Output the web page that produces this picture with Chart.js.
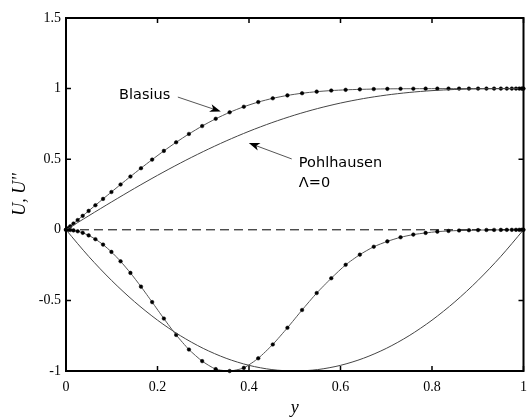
<!DOCTYPE html>
<html>
<head>
<meta charset="utf-8">
<script src="https://cdn.jsdelivr.net/npm/chart.js@4.4.1/dist/chart.umd.min.js"></script>
<style>
  html, body { margin: 0; padding: 0; background: #fff; }
  #wrap { width: 528px; height: 419px; }
</style>
</head>
<body>
<div id="wrap"><canvas id="chart" width="528" height="419"></canvas></div>
<script>
// y positions of the Blasius samples (clustered at both ends)
const yPts = [
    0, 0.0010, 0.0041, 0.0092, 0.0164, 0.0255, 0.0365, 0.0495, 0.0643, 0.0810,
    0.0993, 0.1193, 0.1408, 0.1639, 0.1883, 0.2139, 0.2408, 0.2687, 0.2976, 0.3273,
    0.3577, 0.3887, 0.4202, 0.4520, 0.4840, 0.5160, 0.5480, 0.5798, 0.6113, 0.6423,
    0.6727, 0.7024, 0.7313, 0.7592, 0.7861, 0.8117, 0.8361, 0.8592, 0.8807, 0.9007,
    0.9190, 0.9357, 0.9505, 0.9635, 0.9745, 0.9836, 0.9908, 0.9959, 0.9990, 1
];
const blasiusU = [
    0, 0.0028, 0.0111, 0.0250, 0.0443, 0.0689, 0.0989, 0.1339, 0.1740, 0.2187,
    0.2677, 0.3208, 0.3771, 0.4362, 0.4971, 0.5587, 0.6197, 0.6788, 0.7348, 0.7862,
    0.8320, 0.8716, 0.9046, 0.9312, 0.9519, 0.9672, 0.9784, 0.9861, 0.9913, 0.9946,
    0.9967, 0.9981, 0.9989, 0.9993, 0.9996, 0.9998, 0.9999, 0.9999, 1, 1,
    1, 1, 1, 1, 1, 1, 1, 1, 1, 1
];
const blasiusUpp = [
    0, 0, -0.0003, -0.0014, -0.0043, -0.0105, -0.0215, -0.0395, -0.0665, -0.1048,
    -0.1565, -0.2232, -0.3053, -0.4026, -0.5121, -0.6286, -0.7447, -0.848, -0.930, -0.987,
    -1.0, -0.978, -0.910, -0.812, -0.694, -0.568, -0.448, -0.343, -0.248, -0.176,
    -0.120, -0.082, -0.053, -0.034, -0.022, -0.013, -0.008, -0.005, -0.003, -0.002,
    -0.0013, -0.0009, -0.0006, -0.0004, -0.0003, -0.0002, -0.0002, -0.0001, -0.0001, 0
];

// Pohlhausen profile, Lambda = 0
const pohlY = [0, 0.05, 0.1, 0.15, 0.2, 0.25, 0.3, 0.35, 0.4, 0.45, 0.5,
               0.55, 0.6, 0.65, 0.7, 0.75, 0.8, 0.85, 0.9, 0.95, 1];
const pohlU = [0, 0.0998, 0.1981, 0.2938, 0.3856, 0.4727, 0.5541, 0.6293, 0.6976, 0.7588, 0.8125,
               0.8588, 0.8976, 0.9293, 0.9541, 0.9727, 0.9856, 0.9938, 0.9981, 0.9998, 1];
const pohlUpp = [0, -0.19, -0.36, -0.51, -0.64, -0.75, -0.84, -0.91, -0.96, -0.99, -1,
                 -0.99, -0.96, -0.91, -0.84, -0.75, -0.64, -0.51, -0.36, -0.19, 0];

const zeroX = [0, 1];
const zeroY = [0, 0];

const xTicks = [0, 0.2, 0.4, 0.6, 0.8, 1];
const yTicks = [-1, -0.5, 0, 0.5, 1, 1.5];

function pts(xs, ys) {
    return xs.map((x, i) => ({ x: x, y: ys[i] }));
}

// text labels and arrows, in data units
const notes = [
    { text: 'Blasius', x: 0.116, y: 0.926 },
    { text: 'Pohlhausen', x: 0.509, y: 0.443 },
    { text: '\u039B=0', x: 0.509, y: 0.302 }
];
const arrows = [
    { from: [0.2445, 0.940], to: [0.3384, 0.8375] },
    { from: [0.4934, 0.5018], to: [0.3996, 0.6148] }
];

const framePlugin = {
    id: 'frame',
    afterDatasetsDraw(chart) {
        const { ctx, chartArea: a, scales: { x, y } } = chart;
        ctx.save();
        ctx.strokeStyle = '#000';
        ctx.lineWidth = 2;
        ctx.strokeRect(a.left, a.top, a.right - a.left, a.bottom - a.top);
        ctx.lineWidth = 1.5;
        ctx.beginPath();
        xTicks.forEach(v => {
            const px = x.getPixelForValue(v);
            ctx.moveTo(px, a.bottom); ctx.lineTo(px, a.bottom - 5);
            ctx.moveTo(px, a.top); ctx.lineTo(px, a.top + 5);
        });
        yTicks.forEach(v => {
            const py = y.getPixelForValue(v);
            ctx.moveTo(a.left, py); ctx.lineTo(a.left + 5, py);
            ctx.moveTo(a.right, py); ctx.lineTo(a.right - 5, py);
        });
        ctx.stroke();

        // annotations
        ctx.fillStyle = '#000';
        ctx.font = '14.5px "DejaVu Sans"';
        ctx.textBaseline = 'alphabetic';
        ctx.textAlign = 'left';
        notes.forEach(n => {
            ctx.fillText(n.text, x.getPixelForValue(n.x), y.getPixelForValue(n.y));
        });
        arrows.forEach(ar => {
            const x0 = x.getPixelForValue(ar.from[0]), y0 = y.getPixelForValue(ar.from[1]);
            const x1 = x.getPixelForValue(ar.to[0]), y1 = y.getPixelForValue(ar.to[1]);
            const ang = Math.atan2(y1 - y0, x1 - x0);
            ctx.strokeStyle = '#555';
            ctx.lineWidth = 1;
            ctx.beginPath();
            ctx.moveTo(x0, y0);
            ctx.lineTo(x1 - 6 * Math.cos(ang), y1 - 6 * Math.sin(ang));
            ctx.stroke();
            ctx.beginPath();
            ctx.moveTo(x1, y1);
            ctx.lineTo(x1 - 11 * Math.cos(ang) + 4 * Math.sin(ang), y1 - 11 * Math.sin(ang) - 4 * Math.cos(ang));
            ctx.lineTo(x1 - 8 * Math.cos(ang), y1 - 8 * Math.sin(ang));
            ctx.lineTo(x1 - 11 * Math.cos(ang) - 4 * Math.sin(ang), y1 - 11 * Math.sin(ang) + 4 * Math.cos(ang));
            ctx.closePath();
            ctx.fill();
        });
        ctx.restore();
    }
};

const lineStyle = {
    showLine: true,
    borderColor: '#444',
    borderWidth: 1,
    pointRadius: 0,
    tension: 0.3,
    clip: false
};

const markStyle = {
    showLine: true,
    borderColor: '#555',
    borderWidth: 1,
    pointRadius: 1.8,
    pointBackgroundColor: '#000',
    pointBorderColor: '#000',
    pointBorderWidth: 0.5,
    tension: 0.2,
    clip: false
};

new Chart(document.getElementById('chart'), {
    type: 'scatter',
    data: {
        datasets: [
            Object.assign({ data: pts(zeroX, zeroY) }, lineStyle, { borderColor: '#000', borderDash: [9, 5], tension: 0 }),
            Object.assign({ data: pts(pohlY, pohlU) }, lineStyle),
            Object.assign({ data: pts(pohlY, pohlUpp) }, lineStyle),
            Object.assign({ data: pts(yPts, blasiusU) }, markStyle),
            Object.assign({ data: pts(yPts, blasiusUpp) }, markStyle)
        ]
    },
    options: {
        responsive: false,
        animation: false,
        devicePixelRatio: 1,
        layout: { padding: { left: 0, right: 2, top: 18, bottom: 0 } },
        plugins: { legend: { display: false }, tooltip: { enabled: false } },
        scales: {
            x: {
                type: 'linear',
                min: 0, max: 1,
                afterBuildTicks: s => { s.ticks = xTicks.map(v => ({ value: v })); },
                afterFit: s => { s.height = 48; s.paddingLeft = 0; s.paddingRight = 0; },
                grid: { display: false, drawTicks: false },
                border: { display: false },
                ticks: {
                    padding: 8,
                    color: '#000',
                    font: { family: '"Liberation Serif"', size: 14 },
                    maxRotation: 0,
                    callback: v => String(v)
                },
                title: {
                    display: true,
                    text: 'y',
                    color: '#000',
                    padding: { top: 0, bottom: 0 },
                    font: { family: '"Liberation Serif"', size: 18, style: 'italic' }
                }
            },
            y: {
                type: 'linear',
                min: -1, max: 1.5,
                afterBuildTicks: s => { s.ticks = yTicks.map(v => ({ value: v })); },
                afterFit: s => { s.width = 66; s.paddingTop = 0; s.paddingBottom = 0; },
                grid: { display: false, drawTicks: false },
                border: { display: false },
                ticks: {
                    padding: 5,
                    color: '#000',
                    font: { family: '"Liberation Serif"', size: 14 },
                    callback: v => String(v)
                },
                title: {
                    display: true,
                    text: "U, U''",
                    color: '#000',
                    padding: { top: 9, bottom: 0 },
                    font: { family: '"Liberation Serif"', size: 18, style: 'italic' }
                }
            }
        }
    },
    plugins: [framePlugin]
});
</script>
</body>
</html>
